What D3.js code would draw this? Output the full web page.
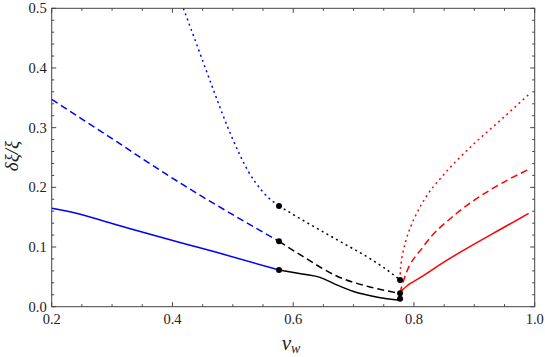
<!DOCTYPE html>
<html><head><meta charset="utf-8">
<script src="https://cdn.jsdelivr.net/npm/d3@7"></script>
<style>body{margin:0;background:#fff}svg{display:block}
svg text{font-family:"Liberation Serif","Times New Roman",Times,serif}</style>
</head><body>
<script>
// ---- data ----
const blueSolidX  = [0.2, 0.23, 0.3, 0.363, 0.42, 0.473, 0.5765];
const blueSolidY  = [0.165, 0.159, 0.1395, 0.1213, 0.1055, 0.0911, 0.0615];
const blueDashedX = [0.2, 0.25, 0.3077, 0.36, 0.418, 0.46, 0.5008, 0.5765];
const blueDashedY = [0.3475, 0.3145, 0.2765, 0.2415, 0.204, 0.178, 0.1537, 0.1096];
const blueDottedX = [0.418, 0.44, 0.4677, 0.498, 0.525, 0.55, 0.5765];
const blueDottedY = [0.5, 0.44, 0.3636, 0.285, 0.228, 0.192, 0.1687];
const blackSolidX  = [0.5765, 0.61, 0.6444, 0.67, 0.70, 0.74, 0.777];
const blackSolidY  = [0.0615, 0.0557, 0.0492, 0.0375, 0.0255, 0.016, 0.011];
const blackDashedX = [0.5765, 0.6167, 0.672, 0.7272, 0.777];
const blackDashedY = [0.1096, 0.0838, 0.0514, 0.033, 0.0224];
const blackDottedX = [0.5765, 0.6167, 0.672, 0.7272, 0.75, 0.777];
const blackDottedY = [0.1687, 0.1445, 0.1125, 0.0805, 0.0655, 0.0447];
const redSolidX  = [0.777, 0.7775, 0.779, 0.783, 0.79, 0.80, 0.82, 0.843, 0.8983, 0.95, 0.99];
const redSolidY  = [0.012, 0.019, 0.025, 0.030, 0.036, 0.0425, 0.055, 0.0705, 0.104, 0.1335, 0.1565];
const redDashedX = [0.777, 0.7797, 0.785, 0.8152, 0.8708, 0.926, 0.99];
const redDashedY = [0.0224, 0.0335, 0.0503, 0.1005, 0.1565, 0.1955, 0.230];
const redDottedX = [0.777, 0.7775, 0.779, 0.782, 0.787, 0.795, 0.8046, 0.82, 0.843, 0.87, 0.8983, 0.945, 0.99];
const redDottedY = [0.0447, 0.0598, 0.0748, 0.0923, 0.112, 0.135, 0.1565, 0.184, 0.214, 0.244, 0.272, 0.314, 0.3555];
const dotX = [0.5765, 0.5765, 0.5765, 0.777, 0.777, 0.777];
const dotY = [0.1687, 0.1096, 0.0615, 0.0447, 0.0224, 0.0134];
const xTickLabels = [0.2, 0.4, 0.6, 0.8, 1.0];
const yTickLabels = [0.0, 0.1, 0.2, 0.3, 0.4, 0.5];

// ---- layout ----
const W = 545, H = 357;
const m = {l: 51.7, r: 10.3, t: 8.3, b: 50.3};
const svg = d3.select("body").append("svg").attr("width", W).attr("height", H);
const x = d3.scaleLinear().domain([0.2, 1.0]).range([m.l, W - m.r]);
const y = d3.scaleLinear().domain([0, 0.5]).range([H - m.b, m.t]);

const frameCol = "#444";

svg.append("clipPath").attr("id", "clip").append("rect")
  .attr("x", m.l).attr("y", m.t).attr("width", W - m.l - m.r).attr("height", H - m.t - m.b);

const series = [
  {xs: blueSolidX, ys: blueSolidY, c: "#0000ff", d: null},
  {xs: blueDashedX, ys: blueDashedY, c: "#0000ff", d: "7,4"},
  {xs: blueDottedX, ys: blueDottedY, c: "#0000ff", d: "2,3.5"},
  {xs: blackSolidX, ys: blackSolidY, c: "#000", d: null},
  {xs: blackDashedX, ys: blackDashedY, c: "#000", d: "7,4"},
  {xs: blackDottedX, ys: blackDottedY, c: "#000", d: "2,3.5"},
  {xs: redSolidX, ys: redSolidY, c: "#ff0000", d: null},
  {xs: redDashedX, ys: redDashedY, c: "#ff0000", d: "7,4"},
  {xs: redDottedX, ys: redDottedY, c: "#ff0000", d: "2,3.5"},
];
const line = d3.line().x(d => x(d[0])).y(d => y(d[1])).curve(d3.curveMonotoneX);
const g = svg.append("g").attr("clip-path", "url(#clip)");
series.forEach(s => {
  g.append("path").datum(s.xs.map((v, i) => [v, s.ys[i]]))
    .attr("d", line).attr("fill", "none").attr("stroke", s.c)
    .attr("stroke-width", 1.5).attr("stroke-dasharray", s.d);
});
g.selectAll("circle.pt").data(dotX.map((v, i) => [v, dotY[i]])).enter()
  .append("circle").attr("cx", d => x(d[0])).attr("cy", d => y(d[1]))
  .attr("r", 3).attr("fill", "#000");

// frame
svg.append("rect").attr("x", m.l).attr("y", m.t)
  .attr("width", W - m.l - m.r).attr("height", H - m.t - m.b)
  .attr("fill", "none").attr("stroke", frameCol).attr("stroke-width", 1);

// ticks (inside, all four sides)
const xMajor = xTickLabels;
const xMinor = d3.range(0.25, 1.0, 0.05).filter(v => !xMajor.some(t => Math.abs(t - v) < 1e-6));
const yMajor = yTickLabels;
const yMinor = d3.range(0.02, 0.5, 0.02).filter(v => !yMajor.some(t => Math.abs(t - v) < 1e-6));
const tk = svg.append("g").attr("stroke", frameCol).attr("stroke-width", 1);
function xt(vals, len) {
  vals.forEach(v => {
    tk.append("line").attr("x1", x(v)).attr("x2", x(v)).attr("y1", y(0)).attr("y2", y(0) - len);
    tk.append("line").attr("x1", x(v)).attr("x2", x(v)).attr("y1", y(0.5)).attr("y2", y(0.5) + len);
  });
}
function yt(vals, len) {
  vals.forEach(v => {
    tk.append("line").attr("y1", y(v)).attr("y2", y(v)).attr("x1", x(0.2)).attr("x2", x(0.2) + len);
    tk.append("line").attr("y1", y(v)).attr("y2", y(v)).attr("x1", x(1.0)).attr("x2", x(1.0) - len);
  });
}
xt(xMajor, 4.5); xt(xMinor, 2.5); yt(yMajor, 4.5); yt(yMinor, 2.5);

// tick labels
svg.append("g").selectAll("text").data(xTickLabels).enter().append("text")
  .attr("x", d => x(d)).attr("y", y(0) + 17).attr("text-anchor", "middle")
  .attr("font-size", 14.5).attr("fill", "#222")
  .text(d => d.toFixed(1));
svg.append("g").selectAll("text").data(yTickLabels).enter().append("text")
  .attr("x", x(0.2) - 5).attr("y", d => y(d) + 5).attr("text-anchor", "end")
  .attr("font-size", 14.5).attr("fill", "#222")
  .text(d => d.toFixed(1));

// axis labels
const xl = svg.append("text").attr("x", 291).attr("y", 350).attr("text-anchor", "middle")
  .attr("font-style", "italic").attr("fill", "#222");
xl.append("tspan").attr("font-size", 21).text("v");
xl.append("tspan").attr("font-size", 14).attr("dy", 3).text("w");

svg.append("text").attr("transform", "translate(18,156) rotate(-90)")
  .attr("text-anchor", "middle").attr("font-style", "italic")
  .attr("font-size", 19).attr("fill", "#222").text("δξ/ξ");
</script>
</body></html>
